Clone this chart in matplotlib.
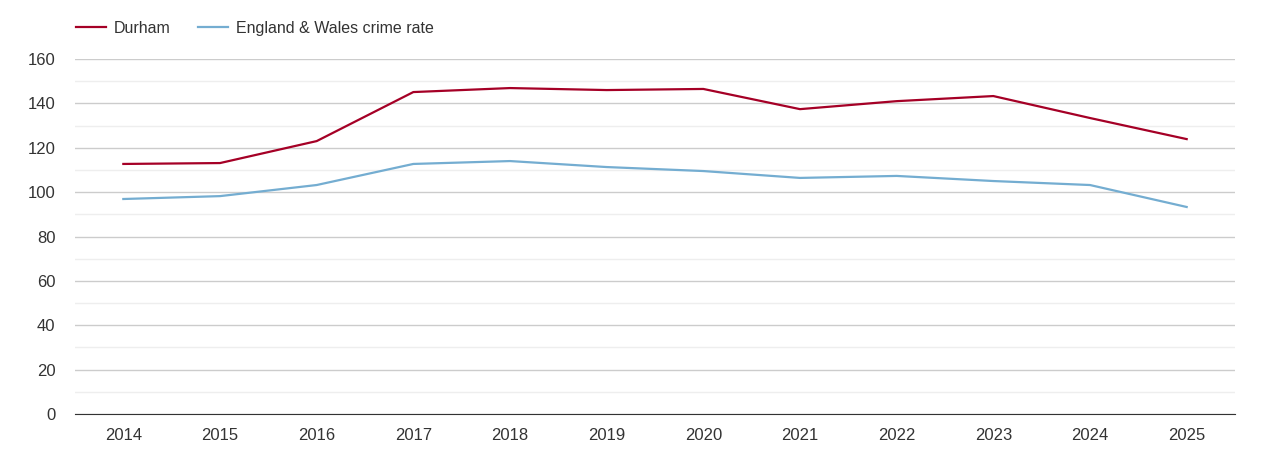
import numpy as np
import matplotlib.pyplot as plt

years = ['2014', '2015', '2016', '2017', '2018', '2019', '2020', '2021', '2022', '2023', '2024', '2025']
durham = [112.7, 113.1, 123.0, 145.1, 146.9, 146.0, 146.5, 137.4, 141.0, 143.3, 133.4, 123.9]
england_wales = [96.9, 98.2, 103.2, 112.7, 114.0, 111.3, 109.5, 106.4, 107.3, 105.0, 103.2, 93.3]

plt.rcParams['font.family'] = ['Liberation Sans', 'DejaVu Sans']

fig = plt.figure(figsize=(12.7, 4.5), dpi=100)
ax = fig.add_axes([75 / 1270, 36 / 450, 1160 / 1270, 355 / 450])

x = np.arange(len(years))
ax.plot(x, durham, color='#a50026', lw=1.6, label='Durham')
ax.plot(x, england_wales, color='#74add1', lw=1.6, label='England & Wales crime rate')

ax.set_xlim(-0.5, len(years) - 0.5)
ax.set_ylim(0, 160)
ax.set_xticks(x)
ax.set_xticklabels(years)
ax.set_yticks(range(0, 161, 20))
ax.set_yticks(range(10, 160, 20), minor=True)
ax.grid(axis='y', which='major', color='#cccccc', lw=1)
ax.grid(axis='y', which='minor', color='#eeeeee', lw=1)
ax.set_axisbelow(True)
ax.tick_params(axis='both', which='both', length=0, labelsize=12, colors='#333333')
ax.tick_params(axis='x', pad=10)
ax.tick_params(axis='y', pad=14)
for s in ['top', 'right', 'left']:
    ax.spines[s].set_visible(False)
ax.spines['bottom'].set_color('#333333')

ax.legend(loc='lower left', bbox_to_anchor=(-0.005, 1.048), ncol=2, frameon=False,
          fontsize=11.5, handlelength=1.9, handletextpad=0.5, columnspacing=1.7,
          borderaxespad=0, labelcolor='#333333')

fig.savefig('out.png', dpi=100)
